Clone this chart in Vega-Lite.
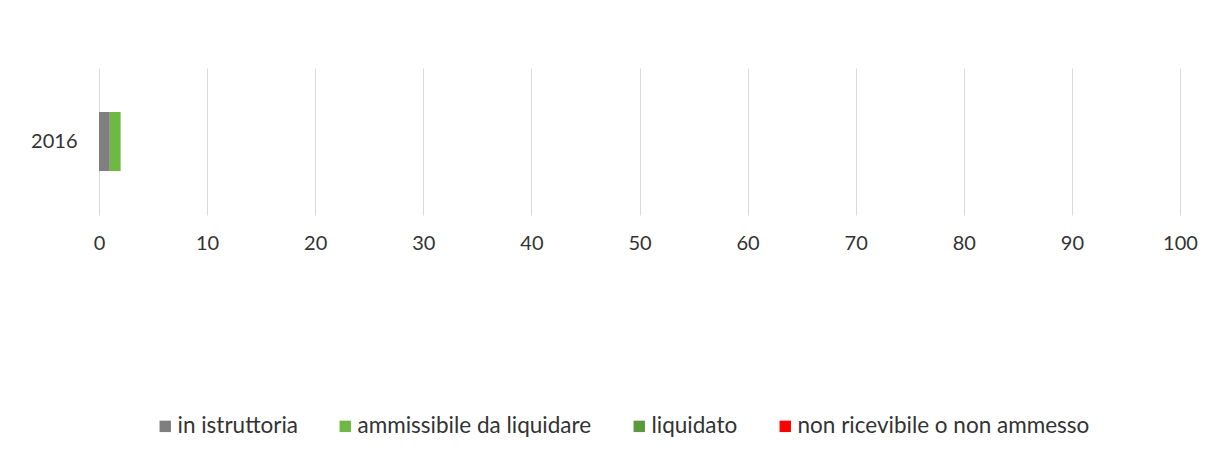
{
  "$schema": "https://vega.github.io/schema/vega-lite/v6.json",
  "width": 1081,
  "height": 147,
  "autosize": {"type": "none"},
  "padding": {"left": 99, "top": 68, "right": 42, "bottom": 243},
  "background": "white",
  "data": {
    "values": [
      {"anno": "2016", "stato": "in istruttoria", "valore": 1},
      {"anno": "2016", "stato": "ammissibile da liquidare", "valore": 1},
      {"anno": "2016", "stato": "liquidato", "valore": 0},
      {"anno": "2016", "stato": "non ricevibile o non ammesso", "valore": 0}
    ]
  },
  "mark": {"type": "bar", "size": 59},
  "encoding": {
    "y": {
      "field": "anno",
      "type": "nominal",
      "title": null,
      "axis": {"domain": false, "ticks": false, "labelPadding": 22, "labelFontSize": 20, "labelFont": "Lato", "labelColor": "#333333"}
    },
    "x": {
      "field": "valore",
      "type": "quantitative",
      "stack": "zero",
      "scale": {"domain": [0, 100], "nice": false},
      "title": null,
      "axis": {"values": [0,10,20,30,40,50,60,70,80,90,100], "domain": false, "ticks": false, "labelPadding": 18, "labelFontSize": 20, "labelFont": "Lato", "labelColor": "#333333", "gridColor": "#d9d9d9", "labelFlush": false}
    },
    "color": {
      "field": "stato",
      "type": "nominal",
      "sort": ["in istruttoria", "ammissibile da liquidare", "liquidato", "non ricevibile o non ammesso"],
      "scale": {
        "domain": ["in istruttoria", "ammissibile da liquidare", "liquidato", "non ricevibile o non ammesso"],
        "range": ["#7f7f7f", "#6fb844", "#5a9a3c", "#ff0000"]
      },
      "legend": {
        "orient": "none",
        "legendX": 55,
        "legendY": 347,
        "direction": "horizontal",
        "title": null,
        "symbolType": "square",
        "symbolSize": 130,
        "symbolStrokeWidth": 0,
        "labelFontSize": 22.5,
        "labelFont": "Lato",
        "labelColor": "#333333",
        "labelLimit": 0,
        "columnPadding": 36,
        "labelOffset": 1
      }
    },
    "order": {"field": "stato", "sort": "descending"}
  },
  "config": {"view": {"stroke": null}}
}
